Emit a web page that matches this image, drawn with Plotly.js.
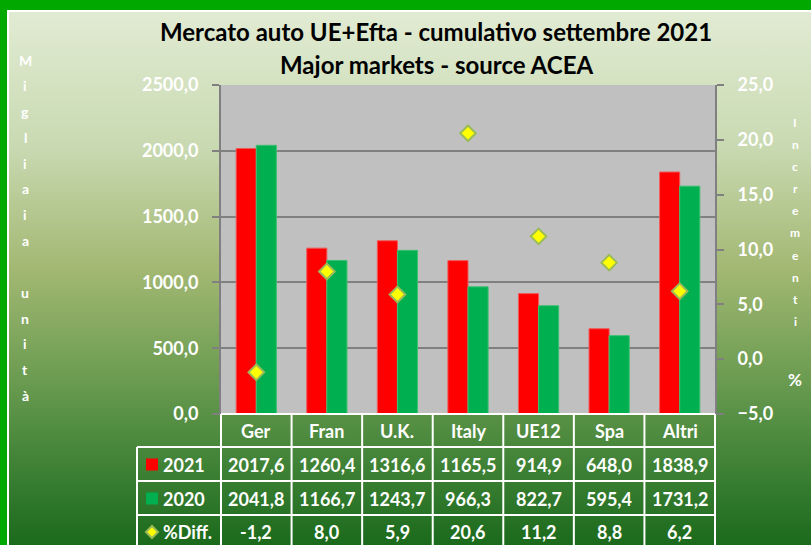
<!DOCTYPE html>
<html><head><meta charset="utf-8">
<script src="https://cdn.plot.ly/plotly-3.0.1.min.js"></script>
<style>
html,body{margin:0;padding:0;width:811px;height:545px;overflow:hidden;background:#00a800;}
#bg{position:absolute;left:7px;top:10px;width:802px;height:533px;border-left:2px solid #fff;border-top:2px solid #fff;
background:linear-gradient(to bottom,#e1ebd3 0%,#c9dab2 25%,#a3b873 48%,#6d9d52 68%,#3f8236 85%,#1b6a1c 100%);}
#chart{position:absolute;left:0;top:0;width:811px;height:545px;}
</style></head><body><div id="bg"></div><div id="chart"></div>
<script>
// ---- data ----
const categories = ['Ger','Fran','U.K.','Italy','UE12','Spa','Altri'];
const values2021 = [2017.6,1260.4,1316.6,1165.5,914.9,648.0,1838.9];
const values2020 = [2041.8,1166.7,1243.7,966.3,822.7,595.4,1731.2];
const pctDiff = [-1.2,8.0,5.9,20.6,11.2,8.8,6.2];
const seriesNames = ['2021','2020','%Diff.'];
const titleLine1 = 'Mercato auto UE+Efta - cumulativo settembre 2021';
const titleLine2 = 'Major markets - source ACEA';
const leftTitle = 'Migliaia unità';
const rightTitle = 'Incrementi';
const rightUnit = '%';

// ---- helpers ----
const W = 811, H = 545;
const px = x => x / W;
const py = y => 1 - y / H;
const fmt = v => v.toFixed(1).replace('.', ',');
const FONT = 'Lato, "Open Sans", "Liberation Sans", sans-serif';
const RED = '#ff0000', GREEN = '#00b050', YEL = '#ffff00', OLIVE = '#9bbb59';

const traces = [
  {type:'bar', name:seriesNames[0], x:categories, y:values2021, xaxis:'x', yaxis:'y',
   marker:{color:RED, line:{color:'#f05a5a', width:1}}, hoverinfo:'y'},
  {type:'bar', name:seriesNames[1], x:categories, y:values2020, xaxis:'x', yaxis:'y',
   marker:{color:GREEN, line:{color:'#3cc070', width:1}}, hoverinfo:'y'},
  {type:'scatter', mode:'markers', name:seriesNames[2], x:categories, y:pctDiff, xaxis:'x', yaxis:'y2',
   marker:{symbol:'diamond', size:12, color:YEL, line:{color:OLIVE, width:2}}, hoverinfo:'y'}
];

// ---- data table (drawn under the plot, columns follow the x axis categories) ----
const plotL = 221, plotR = 715, labelL = 137;
const rowLines = [414, 447, 481, 515, 549];
const rowCenters = [431, 464.5, 498.5, 532];
const colStep = (plotR - plotL) / categories.length;
const shapes = [];
const annotations = [];
const white = '#ffffff';
// horizontal lines
rowLines.forEach((y, i) => {
  shapes.push({type:'line', xref:'paper', yref:'paper', x0:px(i === 0 ? plotL : labelL), x1:px(plotR),
    y0:py(y), y1:py(y), line:{color:white, width:2}, layer:'above'});
});
// vertical lines
for (let k = 0; k <= categories.length; k++) {
  const x = plotL + k * colStep;
  shapes.push({type:'line', xref:'paper', yref:'paper', x0:px(x), x1:px(x), y0:py(414), y1:py(549),
    line:{color:white, width:2}, layer:'above'});
}
shapes.push({type:'line', xref:'paper', yref:'paper', x0:px(labelL), x1:px(labelL), y0:py(447), y1:py(549),
  line:{color:white, width:2}, layer:'above'});

const cellFont = {family:FONT, size:18, color:white};
categories.forEach((c, i) => {
  annotations.push({text:'<b>'+c+'</b>', xref:'x', yref:'paper', x:c, y:py(rowCenters[0]),
    xanchor:'center', yanchor:'middle', showarrow:false, font:cellFont});
  [values2021[i], values2020[i], pctDiff[i]].forEach((v, r) => {
    annotations.push({text:'<b>'+fmt(v)+'</b>', xref:'x', yref:'paper', x:c, y:py(rowCenters[r+1]),
      xanchor:'center', yanchor:'middle', showarrow:false, font:cellFont});
  });
});
seriesNames.forEach((n, r) => {
  annotations.push({text:'<b>'+n+'</b>', xref:'paper', yref:'paper', x:px(161), y:py(rowCenters[r+1]),
    xanchor:'left', yanchor:'middle', showarrow:false, font:cellFont});
});
// legend keys inside the row labels
const kc = rowCenters;
shapes.push({type:'rect', xref:'paper', yref:'paper', x0:px(146), x1:px(158), y0:py(kc[1]+6), y1:py(kc[1]-6),
  fillcolor:RED, line:{width:0}, layer:'above'});
shapes.push({type:'rect', xref:'paper', yref:'paper', x0:px(146), x1:px(158), y0:py(kc[2]+6), y1:py(kc[2]-6),
  fillcolor:GREEN, line:{width:0}, layer:'above'});
shapes.push({type:'path', xref:'paper', yref:'paper',
  path:'M '+px(152)+' '+py(kc[3]-6)+' L '+px(158)+' '+py(kc[3])+' L '+px(152)+' '+py(kc[3]+6)+' L '+px(146)+' '+py(kc[3])+' Z',
  fillcolor:YEL, line:{color:OLIVE, width:2}, layer:'above'});

// ---- titles ----
annotations.push({text:'<b>'+titleLine2+'</b>', xref:'paper', yref:'paper', x:px(436), y:py(65),
  xanchor:'center', yanchor:'middle', showarrow:false, font:{family:FONT, size:24, color:'#000000'}});
leftTitle.split('').forEach((ch,i)=>{
  if (ch === ' ') return;
  annotations.push({text:'<b>'+ch+'</b>', xref:'paper', yref:'paper', x:px(25), y:py(60+i*25.8),
    xanchor:'center', yanchor:'middle', showarrow:false, font:{family:FONT, size:14, color:white}});
});
rightTitle.split('').forEach((ch,i)=>{
  annotations.push({text:'<b>'+ch+'</b>', xref:'paper', yref:'paper', x:px(795), y:py(122+i*22.2),
    xanchor:'center', yanchor:'middle', showarrow:false, font:{family:FONT, size:12, color:white}});
});
annotations.push({text:'<b>'+rightUnit+'</b>', xref:'paper', yref:'paper', x:px(795), y:py(379),
  xanchor:'center', yanchor:'middle', showarrow:false, font:{family:FONT, size:17, color:white}});

const tickFont = {family:FONT, size:18, color:white, weight:'bold'};
const layout = {
  width:W, height:H, margin:{l:0,r:0,t:0,b:0},
  paper_bgcolor:'rgba(0,0,0,0)', plot_bgcolor:'#c0c0c0',
  separators:',.',
  showlegend:false,
  barmode:'group', bargap:0.43, bargroupgap:0,
  title:{text:'<b>'+titleLine1+'</b>', x:px(436), xanchor:'center', xref:'paper',
    y:py(33), yanchor:'middle', yref:'paper', font:{family:FONT, size:24, color:'#000000'}},
  xaxis:{domain:[px(plotL), px(plotR)], showticklabels:false, ticks:'', showgrid:false, zeroline:false,
    showline:false, fixedrange:true},
  yaxis:{domain:[py(414), py(85)], range:[0,2500], dtick:500, tickformat:'.1f',
    showgrid:true, gridcolor:'#808080', gridwidth:2, zeroline:false,
    showline:true, linecolor:'#808080', linewidth:2,
    ticks:'outside', ticklen:7, tickwidth:2, tickcolor:'#808080', ticklabelstandoff:10,
    tickfont:tickFont},
  yaxis2:{overlaying:'y', side:'right', range:[-5,25], dtick:5, tickformat:'.1f',
    showgrid:false, zeroline:false, showline:true, linecolor:'#808080', linewidth:2,
    ticks:'outside', ticklen:7, tickwidth:2, tickcolor:'#808080', ticklabelstandoff:10,
    tickfont:tickFont},
  shapes:shapes,
  annotations:annotations
};
Plotly.newPlot('chart', traces, layout, {displayModeBar:false, staticPlot:true});
</script></body></html>
